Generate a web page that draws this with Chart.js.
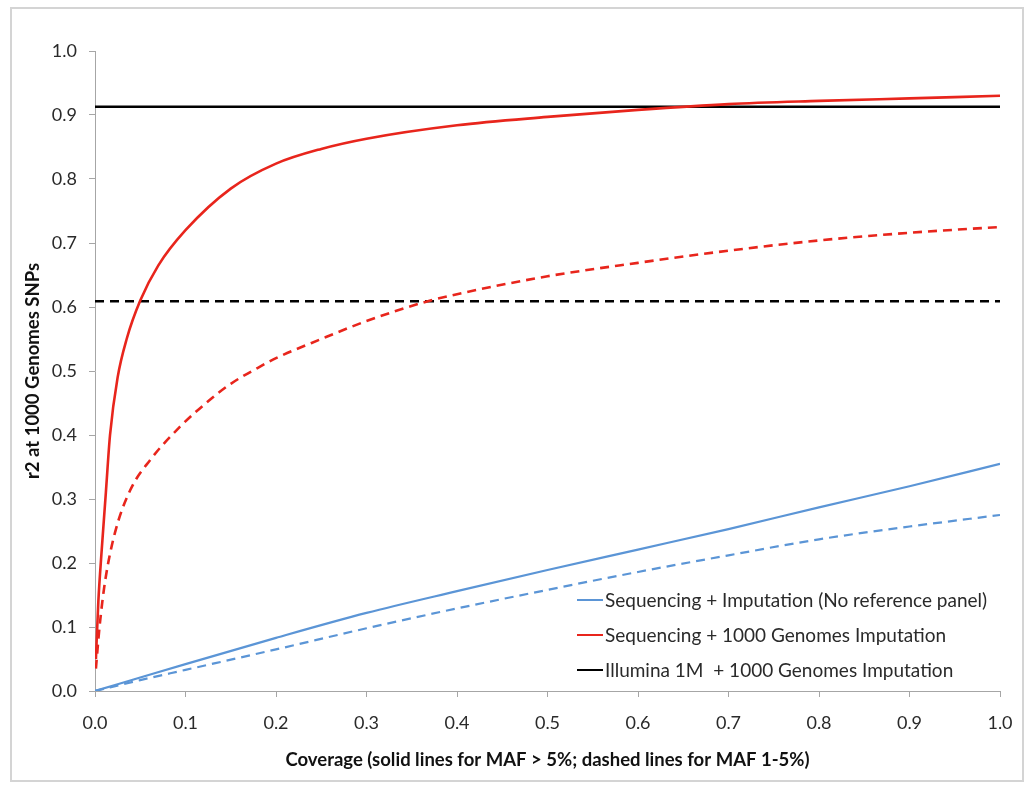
<!DOCTYPE html>
<html>
<head>
<meta charset="utf-8">
<script src="https://cdn.jsdelivr.net/npm/chart.js@4.4.0/dist/chart.umd.min.js"></script>
<style>
  body { margin: 0; background: #fff; }
  #wrap { position: relative; width: 1033px; height: 787px; }
  #frame {
    position: absolute; left: 10px; top: 7px; width: 1010px; height: 771px;
    border: 2px solid #d4d4d4; pointer-events: none;
  }
</style>
</head>
<body>
<div id="wrap">
  <canvas id="chart" width="1033" height="787"></canvas>
  <div id="frame"></div>
</div>
<script>
// series labels (legend shows the solid ones only)
const seriesLabels = [
  'Sequencing + Imputation (No reference panel)',
  'Sequencing + 1000 Genomes Imputation',
  'Illumina 1M  + 1000 Genomes Imputation',
];

// Sequencing + imputation, no reference panel
const blueSolidX = [0, 0.05, 0.1, 0.2, 0.3, 0.4, 0.5, 0.6, 0.7, 0.8, 0.9, 1.0];
const blueSolidY = [0, 0.021, 0.042, 0.083, 0.122, 0.156, 0.189, 0.221, 0.253, 0.287, 0.32, 0.355];
const blueDashX = [0, 0.05, 0.1, 0.2, 0.3, 0.4, 0.5, 0.6, 0.7, 0.8, 0.9, 1.0];
const blueDashY = [0, 0.017, 0.033, 0.065, 0.098, 0.129, 0.158, 0.186, 0.212, 0.237, 0.257, 0.275];

// Sequencing + 1000 Genomes imputation
const redSolidX = [0.001, 0.0037, 0.0074, 0.012, 0.0166, 0.025, 0.035, 0.05, 0.07, 0.1, 0.15, 0.2, 0.25, 0.3, 0.4, 0.5, 0.6, 0.7, 0.8, 0.9, 1.0];
const redSolidY = [0.05, 0.14, 0.22, 0.31, 0.40, 0.49, 0.55, 0.61, 0.665, 0.72, 0.785, 0.824, 0.847, 0.863, 0.884, 0.897, 0.908, 0.917, 0.922, 0.926, 0.93];
const redDashX = [0.001, 0.005, 0.011, 0.022, 0.039, 0.061, 0.094, 0.127, 0.15, 0.18, 0.2, 0.25, 0.3, 0.365, 0.4, 0.5, 0.6, 0.7, 0.8, 0.9, 1.0];
const redDashY = [0.035, 0.1, 0.17, 0.247, 0.314, 0.361, 0.413, 0.455, 0.48, 0.505, 0.52, 0.55, 0.578, 0.608, 0.62, 0.648, 0.669, 0.688, 0.704, 0.716, 0.725];

// Illumina 1M + 1000 Genomes imputation
const blackSolidX = [0, 1.0];
const blackSolidY = [0.913, 0.913];
const blackDashX = [0, 1.0];
const blackDashY = [0.609, 0.609];

const axisTicks = [0, 0.1, 0.2, 0.3, 0.4, 0.5, 0.6, 0.7, 0.8, 0.9, 1.0];

const BLUE = '#5b95d6';
const RED = '#e8251c';
const BLACK = '#000000';

function pts(xs, ys) {
  return xs.map(function (x, i) { return { x: x, y: ys[i] }; });
}

function series(label, xs, ys, color, width, dash, inLegend) {
  return {
    label: label,
    data: pts(xs, ys),
    borderColor: color,
    backgroundColor: color,
    borderWidth: width,
    borderDash: dash,
    showLine: true,
    pointRadius: 0,
    cubicInterpolationMode: 'monotone',
    inLegend: inLegend,
  };
}

const datasets = [
  series(seriesLabels[0], blueSolidX, blueSolidY, BLUE, 2.2, [], true),
  series(seriesLabels[0], blueDashX, blueDashY, BLUE, 2.2, [9, 6], false),
  series(seriesLabels[1], redSolidX, redSolidY, RED, 2.6, [], true),
  series(seriesLabels[1], redDashX, redDashY, RED, 2.6, [9, 6], false),
  series(seriesLabels[2], blackSolidX, blackSolidY, BLACK, 2.6, [], true),
  series(seriesLabels[2], blackDashX, blackDashY, BLACK, 2.6, [9, 6], false),
];

// legend drawn inside the plot, lower right
const innerLegend = {
  id: 'innerLegend',
  afterDraw(chart) {
    const ctx = chart.ctx;
    const area = chart.chartArea;
    const x0 = area.left + 482;
    let y = area.bottom - 91;
    ctx.save();
    ctx.font = '19px Lato, "Open Sans", sans-serif';
    ctx.textBaseline = 'middle';
    ctx.fillStyle = '#2a2a2a';
    chart.data.datasets.forEach(function (ds) {
      if (!ds.inLegend) return;
      ctx.strokeStyle = ds.borderColor;
      ctx.lineWidth = 2;
      ctx.setLineDash([]);
      ctx.beginPath();
      ctx.moveTo(x0, y);
      ctx.lineTo(x0 + 26, y);
      ctx.stroke();
      ctx.fillText(ds.label, x0 + 28, y + 1);
      y += 35;
    });
    ctx.restore();
  },
};

const axisColor = '#a6a6a6';
const tickFont = { family: 'Lato, "Open Sans", sans-serif', size: 18 };
const titleFont = { family: 'Lato, "Open Sans", sans-serif', size: 18.5, weight: 'bold' };

new Chart('chart', {
  type: 'scatter',
  data: { datasets: datasets },
  plugins: [innerLegend],
  options: {
    responsive: false,
    animation: false,
    layout: { padding: { left: 0, top: 51, right: 33, bottom: 0 } },
    plugins: {
      legend: { display: false },
      tooltip: { enabled: false },
    },
    scales: {
      x: {
        type: 'linear',
        min: 0,
        max: 1,
        afterFit: function (scale) { scale.height = 96; },
        afterBuildTicks: function (scale) {
          scale.ticks = axisTicks.map(function (v) { return { value: v }; });
        },
        ticks: {
          color: '#2a2a2a',
          font: tickFont,
          padding: 15,
          callback: function (v) { return v.toFixed(1); },
        },
        grid: {
          drawOnChartArea: false,
          drawTicks: true,
          tickLength: 6,
          color: axisColor,
        },
        border: { color: axisColor, width: 1 },
        title: {
          display: true,
          text: 'Coverage (solid lines for MAF > 5%; dashed lines for MAF 1-5%)',
          color: '#111',
          font: titleFont,
          padding: { top: 0, bottom: 16 },
        },
      },
      y: {
        type: 'linear',
        min: 0,
        max: 1,
        afterFit: function (scale) { scale.width = 95; },
        afterBuildTicks: function (scale) {
          scale.ticks = axisTicks.map(function (v) { return { value: v }; });
        },
        ticks: {
          color: '#2a2a2a',
          font: tickFont,
          padding: 12,
          callback: function (v) { return v.toFixed(1); },
        },
        grid: {
          drawOnChartArea: false,
          drawTicks: true,
          tickLength: 6,
          color: axisColor,
        },
        border: { color: axisColor, width: 1 },
        title: {
          display: true,
          text: 'r2 at 1000 Genomes SNPs',
          color: '#111',
          font: titleFont,
          padding: { top: 22, bottom: 0 },
        },
      },
    },
  },
});
</script>
</body>
</html>
